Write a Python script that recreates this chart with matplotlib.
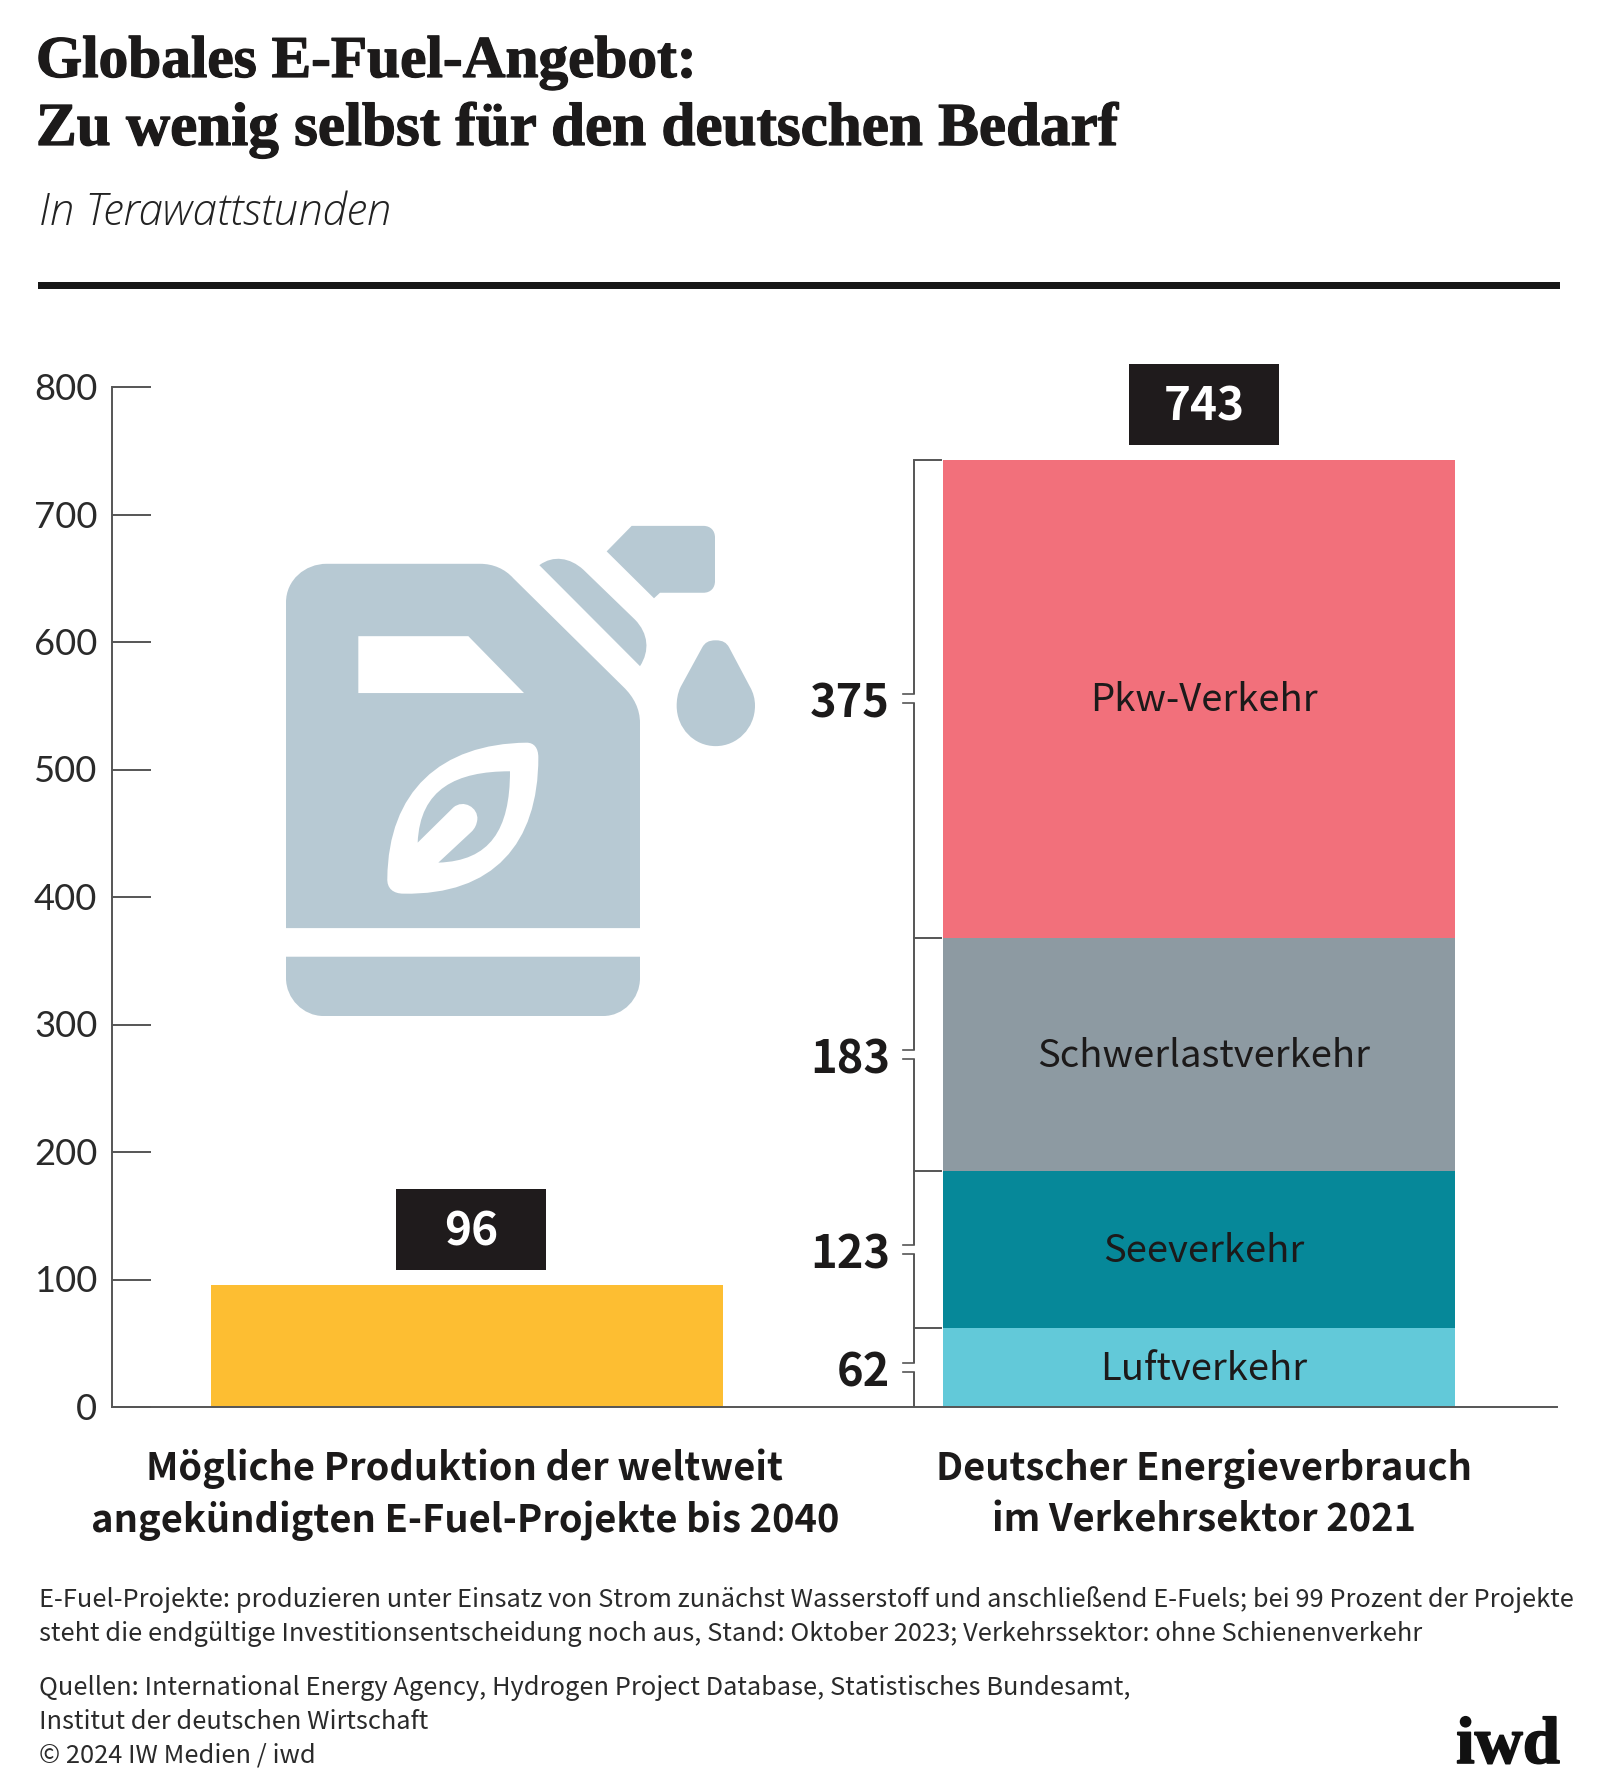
import matplotlib
matplotlib.use("Agg")
import matplotlib.pyplot as plt
from matplotlib import font_manager as fm
from matplotlib import patheffects as pe
from matplotlib.transforms import ScaledTranslation
from matplotlib.path import Path
from matplotlib.patches import PathPatch, Rectangle
import numpy as np

SANS = ['Noto Sans CJK SC', 'DejaVu Sans']
plt.rcParams['font.family'] = SANS

# ---------- data ----------
title_lines = ["Globales E-Fuel-Angebot:", "Zu wenig selbst für den deutschen Bedarf"]
subtitle = "In Terawattstunden"
y_ticks = [0, 100, 200, 300, 400, 500, 600, 700, 800]
supply_value = 96
segment_names = ["Luftverkehr", "Seeverkehr", "Schwerlastverkehr", "Pkw-Verkehr"]
segment_values = [62, 123, 183, 375]
demand_total = 743
category_labels = ["Mögliche Produktion der weltweit\nangekündigten E-Fuel-Projekte bis 2040",
                   "Deutscher Energieverbrauch\nim Verkehrsektor 2021"]
note_lines = ["E-Fuel-Projekte: produzieren unter Einsatz von Strom zunächst Wasserstoff und anschließend E-Fuels; bei 99 Prozent der Projekte",
              "steht die endgültige Investitionsentscheidung noch aus, Stand: Oktober 2023; Verkehrssektor: ohne Schienenverkehr"]
source_lines = ["Quellen: International Energy Agency, Hydrogen Project Database, Statistisches Bundesamt,",
                "Institut der deutschen Wirtschaft",
                "© 2024 IW Medien / iwd"]

# ---------- style ----------
W, H = 1600, 1790
INK = "#1c1a1a"
LINE = "#555555"
ICON = "#b7c9d3"
supply_color = "#fdbe32"
segment_colors = ["#62c9d9", "#068899", "#8d9aa2", "#f2707b"]
SERIF = "Liberation Serif"

fig = plt.figure(figsize=(W/100, H/100), dpi=100, facecolor="white")
AX_L, AX_R, AX_T, AX_B = 112, 1557, 388, 1408
ax = fig.add_axes([AX_L/W, 1-AX_B/H, (AX_R-AX_L)/W, (AX_B-AX_T)/H])
ov = fig.add_axes([0, 0, 1, 1], zorder=-1)
ov.set_xlim(0, W); ov.set_ylim(H, 0); ov.axis("off")
ax.patch.set_alpha(0)

ax.set_xlim(AX_L, AX_R)
ax.set_ylim(0, 800)
for s in ("top", "right"):
    ax.spines[s].set_visible(False)
for s in ("left", "bottom"):
    ax.spines[s].set_color(LINE); ax.spines[s].set_linewidth(1.4)

ax.set_yticks(y_ticks)
ax.set_yticklabels([str(v) for v in y_ticks], fontsize=26.2, color="#2a2a2a", fontweight=400, family=["Lato", "DejaVu Sans"])
ax.tick_params(axis="y", direction="in", length=28, width=1.4, color=LINE, pad=10.5)
up = ScaledTranslation(0, 1.5/100, fig.dpi_scale_trans)
for lab in ax.get_yticklabels():
    lab.set_transform(lab.get_transform() + up)

# category labels as x tick labels
label_x = [465, 1204]
ax.set_xticks(label_x)
ax.set_xticklabels(category_labels, fontsize=27.4, fontweight="bold", color=INK, linespacing=1.34)
ax.tick_params(axis="x", length=0, pad=29.5)

# bars
sup_c, sup_w = 467, 512
dem_c, dem_w = 1199, 512
ax.bar(sup_c, supply_value, width=sup_w, color=supply_color, linewidth=0, zorder=2)
bottoms = np.concatenate([[0], np.cumsum(segment_values)[:-1]])
for name, v, b, c in zip(segment_names, segment_values, bottoms, segment_colors):
    ax.bar(dem_c, v, bottom=b, width=dem_w, color=c, linewidth=0, zorder=2)
    ax.annotate(name, (label_x[1], b + v/2), xytext=(0, 2.5), textcoords="offset points",
                ha="center", va="center_baseline", fontsize=27.5, color=INK, zorder=3)

# bracket with value labels
bx = 914
gap = 3.5
tops = bottoms + np.array(segment_values)
for v, b, t in zip(segment_values, bottoms, tops):
    m = b + v/2
    ax.plot([bx, bx], [b, m-gap], color=LINE, lw=1.4, solid_capstyle="butt", zorder=1)
    ax.plot([bx, bx], [m+gap, t], color=LINE, lw=1.4, solid_capstyle="butt", zorder=1)
    ax.plot([bx-11, bx], [m-gap, m-gap], color=LINE, lw=1.2, zorder=1)
    ax.plot([bx-11, bx], [m+gap, m+gap], color=LINE, lw=1.2, zorder=1)
    ax.plot([bx, bx+27], [t, t], color=LINE, lw=1.4, zorder=1)
    ax.text(890, m, str(v), ha="right", va="center_baseline", fontsize=32.5, fontweight="bold", color=INK)

# black total boxes
for xc, val, txt in [(471, supply_value, "96"), (1204, demand_total, "743")]:
    px = ax.transData.transform((xc, val))
    ytop = H - px[1]
    ov.add_patch(Rectangle((xc-75, ytop-96), 150, 81, fc="#1f1b1c", ec="none"))
    ov.text(xc, ytop-58, txt, ha="center", va="center_baseline", fontsize=33, fontweight="bold", color="white")

# ---------- jerry can icon (zoom-crop coordinates -> pixels) ----------
def P(x, y):
    return (260 + x/3, 500 + y*1.034/3)

def shape(start, *segs, color=ICON):
    v, c = [P(*start)], [Path.MOVETO]
    for s in segs:
        if len(s) == 2:
            v.append(P(*s)); c.append(Path.LINETO)
        else:
            v += [P(s[0], s[1]), P(s[2], s[3]), P(s[4], s[5])]
            c += [Path.CURVE4]*3
    v.append(v[0]); c.append(Path.CLOSEPOLY)
    ov.add_patch(PathPatch(Path(v, c), fc=color, ec="none"))

shape((78, 300), (78, 235, 135, 188, 200, 188), (660, 188), (700, 188, 735, 203, 760, 230),
      (1090, 545), (1122, 575, 1140, 610, 1140, 650), (1140, 1245), (78, 1245))
shape((295, 398), (625, 398), (792, 563), (295, 563), color="white")
shape((800, 707), (540, 710, 385, 850, 382, 1100), (380, 1130, 400, 1145, 430, 1145),
      (700, 1150, 835, 1000, 835, 750), (835, 722, 822, 707, 800, 707), color="white")
shape((750, 790), (590, 790, 480, 840, 473, 997), (580, 895), (610, 870, 655, 895, 652, 930),
      (650, 945, 645, 955, 635, 965), (535, 1055), (690, 1050, 750, 960, 750, 790))
shape((78, 1328), (1140, 1328), (1140, 1390), (1140, 1450, 1090, 1500, 1030, 1500),
      (190, 1500), (130, 1500, 78, 1450, 78, 1390))
shape((838, 192), (880, 162, 930, 170, 970, 205), (1125, 350), (1165, 390, 1170, 440, 1140, 485))
shape((1040, 152), (1115, 78), (1330, 78), (1352, 78, 1365, 92, 1365, 112), (1365, 238),
      (1365, 258, 1352, 272, 1330, 272), (1200, 272), (1182, 288))
shape((1367, 410), (1345, 410, 1335, 417, 1327, 430), (1262, 545), (1252, 565, 1250, 585, 1250, 600),
      (1250, 665, 1302, 717, 1367, 717), (1432, 717, 1485, 665, 1485, 600), (1485, 580, 1480, 562, 1470, 545),
      (1407, 430), (1399, 417, 1389, 410, 1367, 410))

# ---------- page text ----------
def T(x, y, s, **k):
    return fig.text(x/W, 1-y/H, s, va="baseline", **k)

heavy = [pe.withStroke(linewidth=0.9, foreground=INK)]
T(36, 78, title_lines[0], fontsize=42.7, fontweight="bold", family=[SERIF], color=INK, path_effects=heavy)
T(36, 146, title_lines[1], fontsize=44, fontweight="bold", family=[SERIF], color=INK, path_effects=heavy)
T(39, 225, subtitle, fontsize=31.5, style="italic", family=["Open Sans"], fontweight=300, color="#222222")
ov.add_patch(Rectangle((38, 283), 1522, 7, fc="#161616", ec="none"))

for y, s in zip([1607, 1641], note_lines):
    T(39, y, s, fontsize=18.3, color="#2a2a2a")
for y, s in zip([1695, 1729, 1763], source_lines):
    T(39, y, s, fontsize=18.3, color="#2a2a2a")
fig.text(1560/W, 1-1764/H, "iwd", ha="right", va="baseline", fontsize=48, fontweight="bold",
         family=[SERIF], color="#111111", path_effects=[pe.withStroke(linewidth=1.2, foreground="#111111")])

fig.savefig("out.png", dpi=100, facecolor="white")
